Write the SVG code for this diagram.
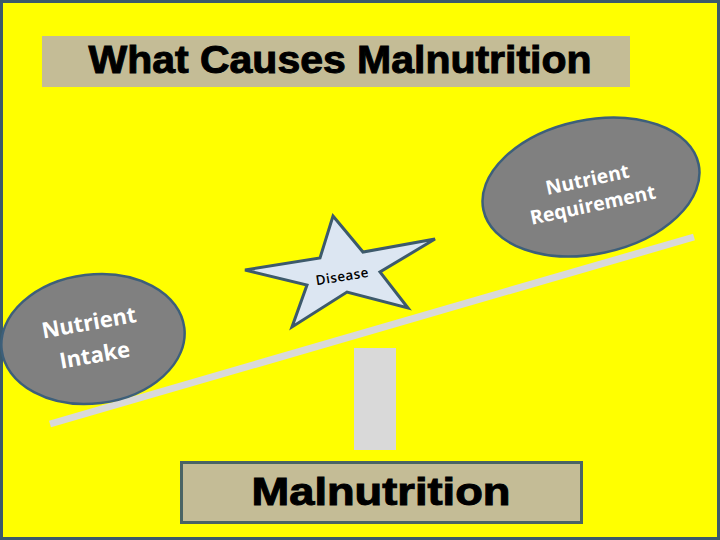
<svg xmlns="http://www.w3.org/2000/svg" width="720" height="540" viewBox="0 0 720 540">
<style>
.bg{fill:#ffff00;stroke:#3b5a6a;stroke-width:3}
.tan{fill:#c4bc96}
.ell{fill:#808080;stroke:#3d5f7a;stroke-width:2.5}
.ellText{font-family:"Open Sans","Liberation Sans",sans-serif;font-weight:700;fill:#ffffff;text-anchor:middle}
.head{font-family:"Liberation Sans",Arial,sans-serif;font-weight:700;fill:#000000;stroke:#000000;stroke-width:1;text-anchor:middle}
</style>
<rect class="bg" x="1.5" y="1.5" width="717" height="537"/>
<g id="title">
<rect class="tan" x="42" y="36" width="588" height="51"/>
<text class="head" x="340" y="73" font-size="39" textLength="503" lengthAdjust="spacingAndGlyphs">What Causes Malnutrition</text>
</g>
<g id="connectors">
<line x1="50" y1="424" x2="694" y2="237" stroke="#d9d9d9" stroke-width="7"/>
<rect x="354" y="348" width="42" height="102" fill="#d9d9d9"/>
</g>
<g id="nutrient-requirement">
<ellipse class="ell" cx="591" cy="187" rx="110" ry="67" transform="rotate(-12 591 187)"/>
<g transform="translate(590,192) rotate(-12)">
<text class="ellText" x="0" y="-6" font-size="19.5">Nutrient</text>
<text class="ellText" x="0" y="20" font-size="19.5">Requirement</text>
</g>
</g>
<g id="disease">
<polygon points="333,216 363,252 435,239 380,272 408,308 347,292 292,327 307,285 245,270 320,258" fill="#dce6f2" stroke="#3d5a6c" stroke-width="3" stroke-linejoin="miter"/>
<text x="343" y="281" font-family="Open Sans,Liberation Sans,sans-serif" font-weight="600" font-size="13.5" fill="#000" text-anchor="middle" transform="rotate(-9 343 281)" letter-spacing="0.5">Disease</text>
</g>
<g id="nutrient-intake">
<ellipse class="ell" cx="93" cy="339" rx="92" ry="64.5" transform="rotate(-7 93 339)"/>
<g transform="translate(92,340) rotate(-10)">
<text class="ellText" x="0" y="-10" font-size="22">Nutrient</text>
<text class="ellText" x="0" y="23" font-size="22">Intake</text>
</g>
</g>
<g id="malnutrition">
<rect class="tan" x="181.5" y="462.5" width="400" height="60" stroke="#4a6464" stroke-width="3"/>
<text class="head" x="381" y="505" font-size="39" textLength="259" lengthAdjust="spacingAndGlyphs">Malnutrition</text>
</g>
</svg>
